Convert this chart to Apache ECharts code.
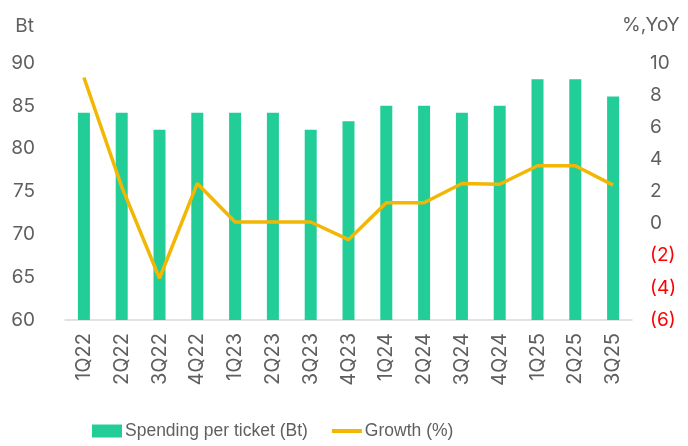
<!DOCTYPE html>
<html>
<head>
<meta charset="utf-8">
<script src="https://cdn.jsdelivr.net/npm/echarts@6/dist/echarts.min.js"></script>
<style>
  html, body { margin: 0; padding: 0; background: #fff; }
  #main { width: 688px; height: 446px; }
</style>
</head>
<body>
<div id="main"></div>
<script>
// quarters on the x axis
var quarters = ['1Q22', '2Q22', '3Q22', '4Q22', '1Q23', '2Q23', '3Q23', '4Q23',
                '1Q24', '2Q24', '3Q24', '4Q24', '1Q25', '2Q25', '3Q25'];
// Spending per ticket (Bt), left axis
var spending = [84.2, 84.2, 82.2, 84.2, 84.2, 84.2, 82.2, 83.2, 85.0, 85.0, 84.2, 85.0, 88.1, 88.1, 86.1];
// Growth (%), right axis
var growth = [9.1, 2.3, -3.4, 2.5, 0.1, 0.1, 0.1, -1.0, 1.3, 1.3, 2.5, 2.45, 3.6, 3.6, 2.4];

var font = 'Inter, sans-serif';
var legendFont = 'Liberation Sans, Arial, sans-serif';
var grey = '#5f5f5f';

var myChart = echarts.init(document.getElementById('main'));

var option = {
  animation: false,
  textStyle: { fontFamily: font },
  grid: { left: 65, right: 56, top: 63, bottom: 126 },
  legend: {
    bottom: 1,
    left: 87,
    itemWidth: 30,
    itemHeight: 13,
    itemGap: 24,
    textStyle: { fontSize: 17.5, color: grey, fontFamily: legendFont, padding: [0, 0, 0, -2] },
    data: [
      { name: 'Spending per ticket (Bt)', icon: 'rect' },
      { name: 'Growth (%)', icon: 'path://M0,0 L30,0 L30,4 L0,4 Z', itemStyle: { color: '#f2b705' } }
    ]
  },
  xAxis: {
    type: 'category',
    data: quarters,
    axisLine: { onZero: false, lineStyle: { color: '#d9d9d9', width: 1.5 } },
    axisTick: { show: false },
    axisLabel: { rotate: 90, fontSize: 20, color: grey, margin: 13, fontFamily: font }
  },
  yAxis: [
    {
      type: 'value',
      name: 'Bt',
      nameLocation: 'end',
      nameGap: 27,
      nameTextStyle: { fontSize: 19, color: grey, align: 'right', padding: [0, 31, 0, 0] },
      min: 60, max: 90, interval: 5,
      axisLine: { show: false },
      axisTick: { show: false },
      splitLine: { show: false },
      axisLabel: { fontSize: 19, color: grey, margin: 30, fontFamily: font }
    },
    {
      type: 'value',
      name: '%,YoY',
      nameLocation: 'end',
      nameGap: 28,
      nameTextStyle: { fontSize: 19, color: grey, align: 'left', padding: [0, 0, 0, -10] },
      min: -6, max: 10, interval: 2,
      axisLine: { show: false },
      axisTick: { show: false },
      splitLine: { show: false },
      axisLabel: {
        fontSize: 19,
        margin: 18,
        fontFamily: font,
        formatter: function (v) {
          return v < 0 ? '{neg|(' + Math.abs(v) + ')}' : '{pos|' + v + '}';
        },
        rich: {
          neg: { color: '#ff0000', fontSize: 19, fontFamily: font },
          pos: { color: grey, fontSize: 19, fontFamily: font }
        }
      }
    }
  ],
  series: [
    {
      name: 'Spending per ticket (Bt)',
      type: 'bar',
      yAxisIndex: 0,
      data: spending,
      barWidth: 12,
      itemStyle: { color: '#22cd98' }
    },
    {
      name: 'Growth (%)',
      type: 'line',
      yAxisIndex: 1,
      data: growth,
      symbol: 'none',
      lineStyle: { color: '#f2b705', width: 3.5 },
      itemStyle: { color: '#f2b705' }
    }
  ]
};

myChart.setOption(option);
</script>
</body>
</html>
